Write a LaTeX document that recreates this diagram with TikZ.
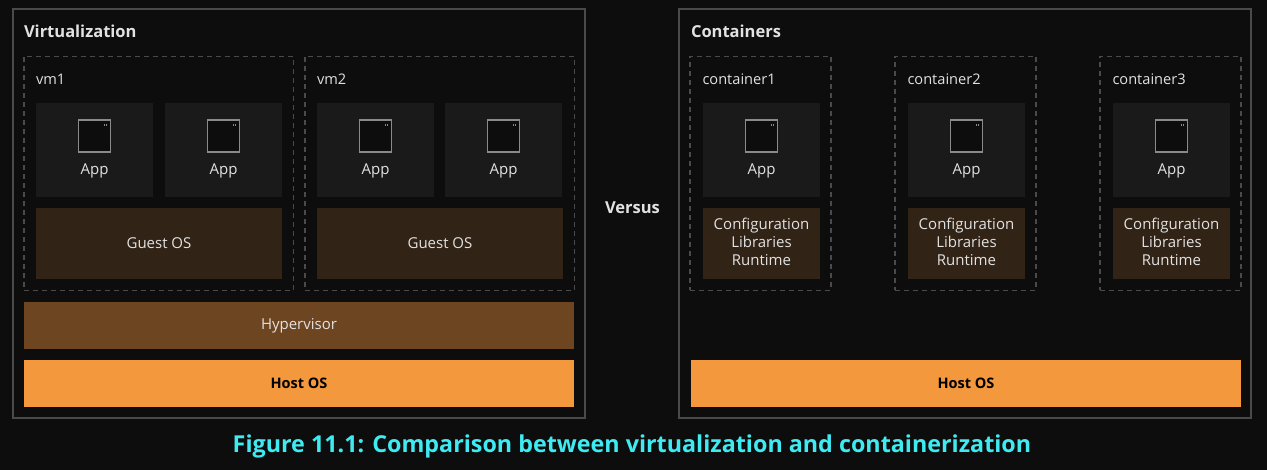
\documentclass[tikz,border=0pt]{standalone}
\usepackage{fontspec}
\setmainfont{Open Sans}
\usetikzlibrary{positioning}

\definecolor{pagebg}{HTML}{0D0D0D}
\definecolor{appbg}{HTML}{1A1A1A}
\definecolor{guestbg}{HTML}{312316}
\definecolor{hyperbg}{HTML}{6D4520}
\definecolor{hostbg}{HTML}{F3983C}
\definecolor{edgegray}{HTML}{4A4A4A}
\definecolor{icongray}{HTML}{8A8A8A}
\definecolor{textgray}{HTML}{E2E2E2}
\definecolor{capcyan}{HTML}{3FEBF2}

\begin{document}
\begin{tikzpicture}[x=1pt,y=-1pt,
  every node/.style={inner sep=0pt,outer sep=0pt,text=textgray,font=\fontsize{15}{18}\selectfont},
  outer box/.style={rectangle,anchor=north west,draw=edgegray,line width=2pt,minimum width=572pt,minimum height=408pt},
  dash box/.style={rectangle,anchor=north west,draw=edgegray,line width=1.5pt,dash pattern=on 5pt off 4pt,minimum height=234pt},
  app box/.style={rectangle,anchor=north west,fill=appbg,minimum width=117pt,minimum height=94pt},
  guest box/.style={rectangle,anchor=north west,fill=guestbg,minimum height=71pt},
  hyper box/.style={rectangle,anchor=north west,fill=hyperbg,minimum width=550pt,minimum height=47pt},
  host box/.style={rectangle,anchor=north west,fill=hostbg,minimum width=550pt,minimum height=47pt,text=black,font=\fontsize{14.5}{18}\selectfont\bfseries},
  icon node/.style={rectangle,draw=icongray,fill=pagebg,line width=1.6pt,minimum size=32pt},
  dot node/.style={rectangle,fill=icongray,minimum width=1pt,minimum height=2pt},
  title node/.style={anchor=west,font=\fontsize{16.5}{18}\selectfont\bfseries},
  name node/.style={anchor=west,font=\fontsize{14.6}{18}\selectfont}]

  \useasboundingbox (0,0) rectangle (1267,470);
  \fill[pagebg] (0,0) rectangle (1267,470);

  % the two frames
  \node[outer box] (virt) at (12.5,9.5) {};
  \node[outer box] (cont) at (679,9.5) {};
  \node[title node] (virttitle) at (24,31.5) {Virtualization};
  \node[title node] (conttitle) at (691,31.5) {Containers};
  \node[font=\fontsize{16.5}{18}\selectfont\bfseries] (versus) at (632.5,207.5) {Versus};

  % virtual machines
  \foreach \n/\x in {1/24,2/305}{
    \node[dash box,minimum width=269.5pt] (vm\n) at (\x,56.5) {};
    \node[name node] (vmname\n) at (\x+12,79) {vm\n};
    \node[guest box,minimum width=246pt] (guest\n) at (\x+12,208) {Guest OS};
  }

  \foreach \n/\x in {a/36,b/165,c/317,d/445}{
    \node[app box] (app\n) at (\x,103) {};
    \node[icon node,below=17pt of app\n.north] (icon\n) {};
    \node[dot node] (dota\n) at ([xshift=-6pt,yshift=-5pt]icon\n.north east) {};
    \node[dot node] (dotb\n) at ([xshift=-4pt,yshift=-5pt]icon\n.north east) {};
    \node (label\n) at ([yshift=26pt]app\n.south) {App};
  }

  \node[hyper box] (hyper) at (24,302) {Hypervisor};
  \node[host box] (hostl) at (24,360) {Host OS};

  % containers
  \foreach \n/\x in {1/690,2/895,3/1100}{
    \node[dash box,minimum width=141pt] (box\n) at (\x,56.5) {};
    \node[name node] (boxname\n) at (\x+12.5,79) {container\n};
    \node[app box] (capp\n) at (\x+13,103) {};
    \node[icon node,below=17pt of capp\n.north] (cicon\n) {};
    \node[dot node] (cdota\n) at ([xshift=-6pt,yshift=-5pt]cicon\n.north east) {};
    \node[dot node] (cdotb\n) at ([xshift=-4pt,yshift=-5pt]cicon\n.north east) {};
    \node (clabel\n) at ([yshift=26pt]capp\n.south) {App};
    \node[guest box,minimum width=117pt] (cfg\n) at (\x+13,208) {};
    \node[align=center,yshift=2pt] (cfgtext\n) at (cfg\n.center)
      {Configuration\\Libraries\\Runtime};
  }

  \node[host box] (hostr) at (691,360) {Host OS};

  \node[text=capcyan,font=\fontsize{23.3}{28}\selectfont\bfseries] (caption) at (632,446) {Figure 11.1: Comparison between virtualization and containerization};

\end{tikzpicture}
\end{document}
